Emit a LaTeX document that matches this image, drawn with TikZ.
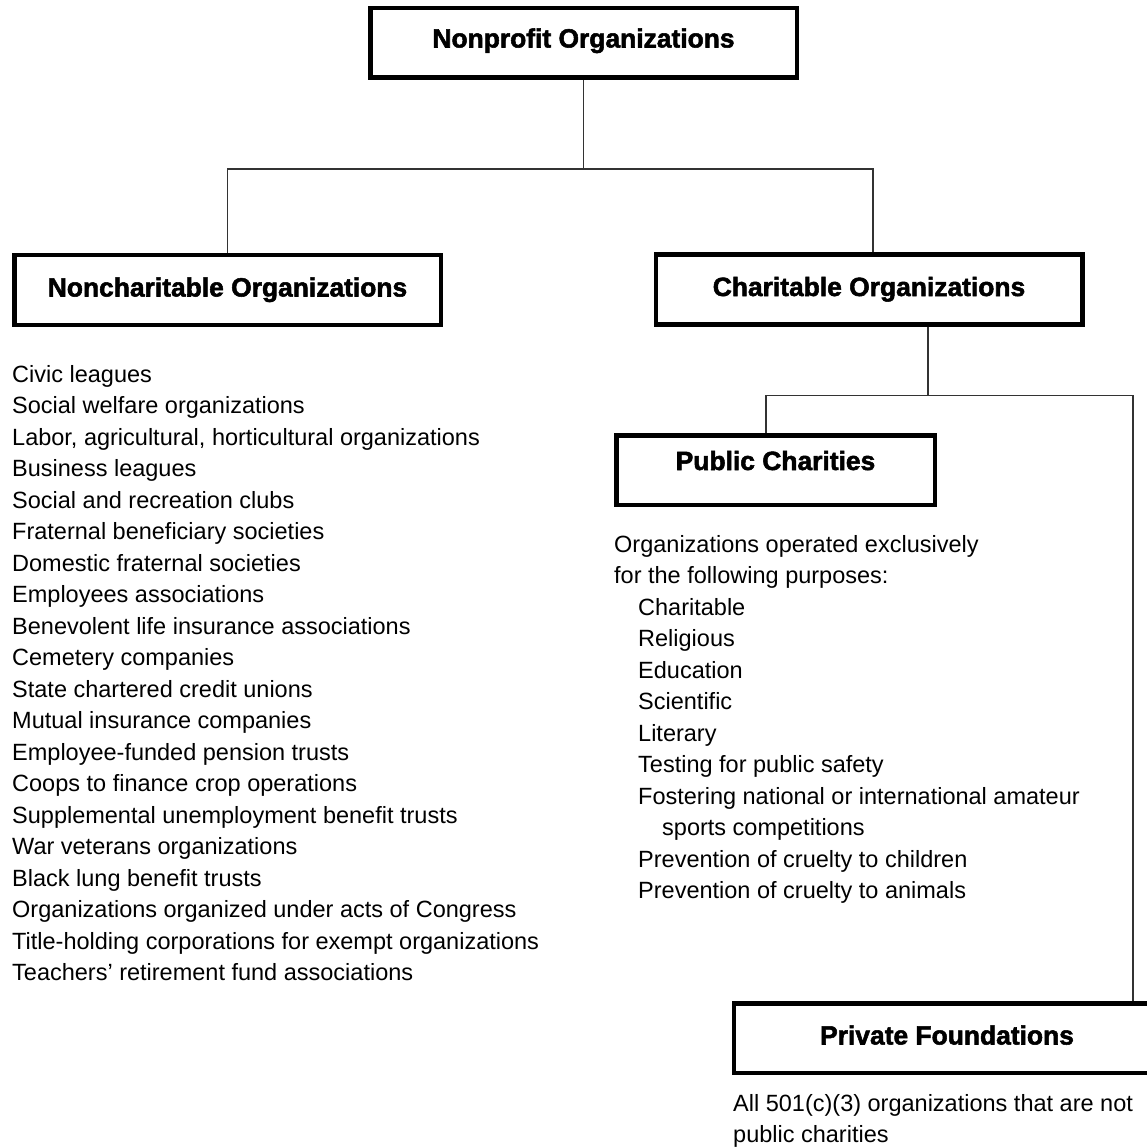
\documentclass[tikz,border=0pt]{standalone}
\usepackage{fontspec}
\setmainfont{Liberation Sans}
\newfontfamily\headfont[FakeBold=2.0]{Liberation Sans Bold}
\begin{document}
\begin{tikzpicture}[x=1pt,y=-1pt,
  box/.style={draw=black, line width=4.5pt, fill=white, inner sep=0pt,
    minimum width=426.5pt, minimum height=69.5pt,
    text height=19pt, text depth=6pt,
    font=\headfont\fontsize{26.4}{30}\selectfont},
  conn/.style={draw=black!80, line width=1.4pt},
  item/.style={anchor=base west, inner sep=0pt,
    font=\fontsize{23.5}{28}\selectfont}]
\useasboundingbox (0,0) rectangle (1147,1147);
\clip (0,0) rectangle (1147,1147);

% boxes
\node[box, text depth=10pt] (top) at (583.5,43) {Nonprofit Organizations};
\node[box] (nonch) at (227.5,290) {Noncharitable Organizations};
\node[box] (char) at (869,289.5) {Charitable Organizations};
\node[box, minimum width=318.5pt, text depth=19pt] (pub) at (775.5,470) {Public Charities};
\node[box] (priv) at (947,1038) {Private Foundations};

% connectors
\draw[conn] (top.south) -- ++(0,89) coordinate (j1);
\draw[conn] (nonch.north) |- (j1) -| ([xshift=4pt]char.north);
\draw[conn] ([xshift=59pt]char.south) -- ++(0,69) coordinate (j2);
\draw[conn] ([xshift=-9.5pt]pub.north) |- (j2) -| ([xshift=186pt]priv.north);

% noncharitable list
\foreach \t [count=\i] in {
  Civic leagues,
  Social welfare organizations,
  {Labor, agricultural, horticultural organizations},
  Business leagues,
  Social and recreation clubs,
  Fraternal beneficiary societies,
  Domestic fraternal societies,
  Employees associations,
  Benevolent life insurance associations,
  Cemetery companies,
  State chartered credit unions,
  Mutual insurance companies,
  Employee-funded pension trusts,
  Coops to finance crop operations,
  Supplemental unemployment benefit trusts,
  War veterans organizations,
  Black lung benefit trusts,
  Organizations organized under acts of Congress,
  Title-holding corporations for exempt organizations,
  Teachers’ retirement fund associations}
  \node[item] (nc\i) at (12,{382+(\i-1)*31.5}) {\t};

% public charities list
\foreach \t/\x [count=\i] in {
  Organizations operated exclusively/614,
  for the following purposes:/614,
  Charitable/638,
  Religious/638,
  Education/638,
  Scientific/638,
  Literary/638,
  Testing for public safety/638,
  Fostering national or international amateur/638,
  sports competitions/662,
  Prevention of cruelty to children/638,
  Prevention of cruelty to animals/638}
  \node[item] (pc\i) at (\x,{552+(\i-1)*31.5}) {\t};

% private foundations text
\node[item] (pf1) at (733,1111) {All 501(c)(3) organizations that are not};
\node[item] (pf2) at (733,1142) {public charities};
\end{tikzpicture}
\end{document}
